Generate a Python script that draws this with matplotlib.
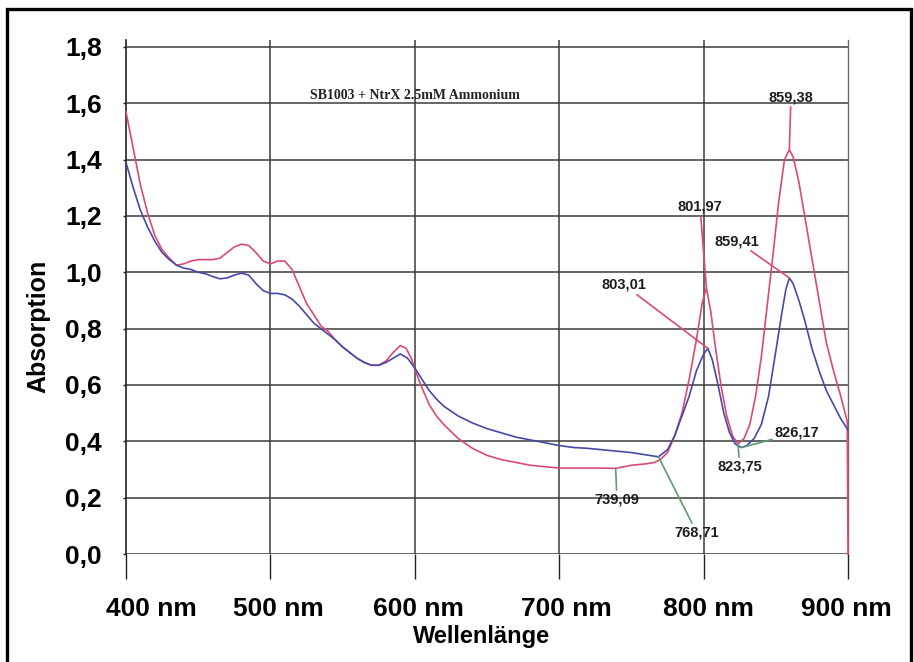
import numpy as np
import matplotlib
matplotlib.use("Agg")
import matplotlib.pyplot as plt
from matplotlib.patches import Rectangle
import matplotlib.transforms as mtransforms

# Absorption spectra (wavelength in nm, absorbance)
red_nm = [400, 405, 410, 415, 420, 425, 430, 435, 440, 445, 450, 455, 460, 465, 470,
          475, 480, 485, 490, 495, 500, 505, 510, 515, 520, 525, 530, 535, 540, 545,
          550, 555, 560, 565, 570, 575, 580, 585, 590, 594, 598, 600, 605, 610, 615,
          620, 630, 640, 650, 660, 670, 680, 690, 700, 710, 720, 730, 739.09, 750, 760,
          766, 770, 775, 780, 785, 790, 795, 799, 801.97, 805, 808, 812, 816, 820,
          823.75, 828, 832, 836, 840, 844, 848, 852, 856, 859.38, 862, 866, 870, 875,
          880, 885, 890, 895, 898, 899.5, 900]
red_abs = [1.57, 1.44, 1.31, 1.21, 1.13, 1.08, 1.05, 1.025, 1.03, 1.04, 1.045, 1.045, 1.045,
           1.05, 1.07, 1.09, 1.10, 1.095, 1.07, 1.04, 1.03, 1.04, 1.04, 1.01, 0.95, 0.89,
           0.85, 0.81, 0.79, 0.76, 0.735, 0.715, 0.695, 0.68, 0.67, 0.67, 0.685, 0.715,
           0.74, 0.73, 0.69, 0.655, 0.59, 0.53, 0.49, 0.46, 0.41, 0.375, 0.35, 0.335, 0.325,
           0.315, 0.31, 0.305, 0.305, 0.305, 0.305, 0.304, 0.315, 0.32, 0.325, 0.335, 0.36,
           0.42, 0.50, 0.62, 0.76, 0.89, 0.945, 0.86, 0.74, 0.60, 0.49, 0.42, 0.39, 0.41,
           0.46, 0.56, 0.70, 0.88, 1.06, 1.25, 1.40, 1.435, 1.41, 1.32, 1.20, 1.05, 0.90,
           0.75, 0.65, 0.56, 0.50, 0.47, 0.0]

blue_nm = [400, 405, 410, 415, 420, 425, 430, 435, 440, 445, 450, 455, 460, 465, 470,
           475, 480, 485, 490, 495, 500, 505, 510, 515, 520, 525, 530, 535, 540, 545,
           550, 555, 560, 565, 570, 575, 580, 585, 590, 595, 600, 605, 610, 615, 620,
           630, 640, 650, 660, 670, 680, 690, 700, 710, 720, 730, 740, 750, 760, 768.71,
           775, 780, 785, 790, 795, 800, 803.01, 806, 810, 814, 818, 822, 826.17, 830,
           835, 840, 845, 850, 854, 857, 859.41, 862, 866, 870, 875, 880, 885, 890, 895,
           900]
blue_abs = [1.39, 1.30, 1.22, 1.16, 1.11, 1.07, 1.045, 1.025, 1.015, 1.01, 1.00, 0.995,
            0.985, 0.977, 0.98, 0.99, 0.997, 0.99, 0.96, 0.935, 0.925, 0.925, 0.92, 0.905,
            0.88, 0.85, 0.82, 0.80, 0.78, 0.76, 0.735, 0.715, 0.695, 0.68, 0.67, 0.67, 0.68,
            0.695, 0.71, 0.695, 0.66, 0.62, 0.58, 0.55, 0.525, 0.49, 0.465, 0.445, 0.43,
            0.415, 0.405, 0.395, 0.385, 0.378, 0.375, 0.37, 0.365, 0.36, 0.352, 0.345, 0.37,
            0.42, 0.49, 0.56, 0.65, 0.71, 0.73, 0.69, 0.60, 0.50, 0.43, 0.39, 0.378, 0.385,
            0.41, 0.46, 0.56, 0.72, 0.85, 0.94, 0.98, 0.96, 0.90, 0.83, 0.73, 0.65, 0.58,
            0.53, 0.48, 0.44]

# labelled maxima / minima of each spectrum
red_marks = [801.97, 859.38, 739.09, 823.75]
blue_marks = [803.01, 859.41, 768.71, 826.17]

x_ticks = [400, 500, 600, 700, 800, 900]
x_labels = ["400 nm", "500 nm", "600 nm", "700 nm", "800 nm", "900 nm"]
y_ticks = [0.0, 0.2, 0.4, 0.6, 0.8, 1.0, 1.2, 1.4, 1.6, 1.8]
y_labels = ["0,0", "0,2", "0,4", "0,6", "0,8", "1,0", "1,2", "1,4", "1,6", "1,8"]

title = "SB1003 + NtrX 2.5mM Ammonium"

RED = "#dc4a74"
BLUE = "#4848a8"
GREEN = "#5e9c72"
GRID = "#3c3c3c"

W, H = 914, 662
fig = plt.figure(figsize=(W / 100, H / 100), dpi=100)
fig.patch.set_facecolor("white")

left, right, bottom, top = 126, 848, 554, 40
ax = fig.add_axes([left / W, 1 - bottom / H, (right - left) / W, (bottom - top) / H])
ax.set_xlim(400, 900)
ax.set_ylim(0, (bottom - top) / 281.7)

ax.spines["top"].set_visible(False)
ax.spines["bottom"].set_visible(False)
ax.spines["left"].set_color("#222222")
ax.spines["left"].set_linewidth(1.2)
ax.spines["right"].set_color("#6a6a6a")
ax.spines["right"].set_linewidth(1.0)

for yv in y_ticks:
    ax.axhline(yv, color=GRID, lw=1.1, zorder=1)
for xv in x_ticks[1:-1]:
    ax.axvline(xv, color=GRID, lw=1.1, zorder=1)

ax.plot(red_nm, red_abs, color=RED, lw=1.2, zorder=3, clip_on=False)
ax.plot(blue_nm, blue_abs, color=BLUE, lw=1.2, zorder=3)

sans = ["Liberation Sans", "DejaVu Sans"]

ax.set_xticks(x_ticks)
ax.set_xticklabels(x_labels, fontsize=19, fontweight="bold", family=sans)
ax.set_yticks(y_ticks)
ax.set_yticklabels(y_labels, fontsize=19, fontweight="bold", family=sans)
ax.tick_params(axis="x", length=18, width=1.0, color="#222222", pad=13, direction="out")
ax.tick_params(axis="y", length=2.5, width=1.0, color="#222222", pad=15)

# nudge the x labels slightly to the right as in the printed chart
shifts = [25, 8, 4, 7, 5, -2]
for lab, dx in zip(ax.get_xticklabels(), shifts):
    lab.set_transform(lab.get_transform() + mtransforms.ScaledTranslation(dx / 100, 0, fig.dpi_scale_trans))

ax.text(600, 1.628, title, ha="center", va="center", fontsize=10, fontweight="bold",
        family=["Liberation Serif", "DejaVu Serif"], color="#222222", zorder=4)

fig.text(38 / W, 1 - 326 / H, "Absorption", rotation=90, ha="center", va="center",
         fontsize=18, fontweight="bold", family=sans)
fig.text(482 / W, 1 - 637 / H, "Wellenlänge", ha="center", va="center",
         fontsize=17, fontweight="bold", family=sans)


def value_at(nm_list, abs_list, nm):
    return abs_list[nm_list.index(nm)]


def fmt(v):
    return f"{v:.2f}".replace(".", ",")


label_pos = {
    801.97: (797.5, 1.232, RED),
    859.38: (860.5, 1.622, RED),
    739.09: (740.0, 0.192, GREEN),
    823.75: (825.2, 0.309, GREEN),
    803.01: (744.9, 0.955, RED),
    859.41: (823.1, 1.111, RED),
    768.71: (795.4, 0.075, GREEN),
    826.17: (864.7, 0.430, GREEN),
}

for nm_list, abs_list, marks in [(red_nm, red_abs, red_marks), (blue_nm, blue_abs, blue_marks)]:
    for m in marks:
        tx, ty, col = label_pos[m]
        ax.annotate(fmt(m), xy=(m, value_at(nm_list, abs_list, m)), xytext=(tx, ty),
                    ha="center", va="center", fontsize=10.5, fontweight="bold",
                    family=sans, color="#1e1e1e", zorder=5,
                    arrowprops=dict(arrowstyle="-", color=col, lw=1.2, shrinkA=0, shrinkB=0))

# outer frame around the whole chart
fig.add_artist(Rectangle((7 / W, -0.05), (911 - 7) / W, 1 - 9 / H + 0.05,
                         transform=fig.transFigure, fill=False, edgecolor="black", lw=2.4))

fig.savefig("out.png", dpi=100)
